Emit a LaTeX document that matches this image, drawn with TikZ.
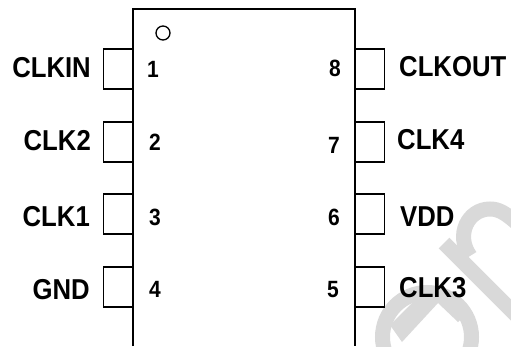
\documentclass[tikz,border=0pt]{standalone}
\usepackage{fontspec}
\usepackage{graphicx}
\setmainfont{Liberation Sans}
\definecolor{wm}{RGB}{217,217,217}
\newcommand{\tallsf}[1]{\scalebox{1}[1.12]{#1}}
\tikzset{
 pin/.style={draw=black,line width=1.25pt,fill=none},
 body/.style={draw=black,line width=1.5pt},
 lab/.style={font=\fontsize{25.7}{28}\selectfont\bfseries,text=black,inner sep=0pt},
 num/.style={font=\fontsize{21}{23}\selectfont\bfseries,text=black,inner sep=0pt},
 wmark/.style={draw=wm,line width=15pt,line cap=butt}
}
\begin{document}
\begin{tikzpicture}[x=1pt,y=-1pt]
\useasboundingbox (0,0) rectangle (511,346);
\fill[white] (0,0) rectangle (511,346);
% watermark
\begin{scope}
\clip (0,0) rectangle (511,346);
\draw[wmark] (444,243) -- (530,329);
\draw[wmark] (470,256) .. controls (455,235) and (468,209) .. (490,209) .. controls (498,209) and (505,212) .. (520,226);
\draw[wmark] (427,337) circle [radius=44.5];
\fill[wm] (390,325) -- (402,342) -- (438,303) -- (458,322) -- (465,315) -- (450,295) -- (420,295) -- cycle;
\end{scope}
% body
\draw[body] (133,346) -- (133,9) -- (355,9) -- (355,346);
% pins
\foreach \y in {49,122,194,267}{
 \draw[pin] (133,\y) -- (103.5,\y) -- (103.5,\y+40) -- (133,\y+40);
 \draw[pin] (355,\y) -- (384.5,\y) -- (384.5,\y+40) -- (355,\y+40);
}
\node[draw=black,line width=1.3pt,circle,minimum size=14pt,inner sep=0pt] (dot) at (163,33) {};
\node[lab,anchor=east] (l1) at (91,68) {\tallsf{CLKIN}};
\node[lab,anchor=east] (l2) at (91,141) {\tallsf{CLK2}};
\node[lab,anchor=east] (l3) at (90,217) {\tallsf{CLK1}};
\node[lab,anchor=east] (l4) at (90,289.5) {\tallsf{GND}};
\node[num] (n1) at (153,69.5) {\tallsf{1}};
\node[num] (n2) at (155,142) {\tallsf{2}};
\node[num] (n3) at (155,217.5) {\tallsf{3}};
\node[num] (n4) at (155,289.5) {\tallsf{4}};
\node[num] (n8) at (335,68.5) {\tallsf{8}};
\node[num] (n7) at (334,145) {\tallsf{7}};
\node[num] (n6) at (334,217.5) {\tallsf{6}};
\node[num] (n5) at (333,289.5) {\tallsf{5}};
\node[lab,anchor=west] (r8) at (399,67) {\tallsf{CLKOUT}};
\node[lab,anchor=west] (r7) at (397,140) {\tallsf{CLK4}};
\node[lab,anchor=west] (r6) at (400,217) {\tallsf{VDD}};
\node[lab,anchor=west] (r5) at (399,287.5) {\tallsf{CLK3}};
\end{tikzpicture}
\end{document}
